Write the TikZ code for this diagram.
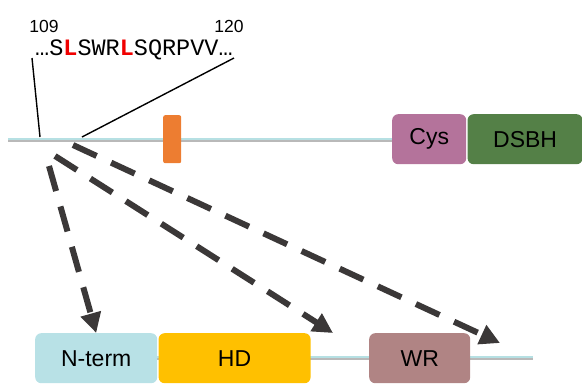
\documentclass[tikz,border=0pt]{standalone}
\usepackage{fontspec}
\setmainfont{Liberation Sans}
\newfontfamily\seqfont{Liberation Mono}
\newfontfamily\numfont{Liberation Sans}
\usepackage{tikz}
\usepackage{xcolor}
\usetikzlibrary{arrows.meta, positioning}
\definecolor{cLine}{RGB}{182,224,227}
\definecolor{cShadow}{RGB}{185,185,185}
\definecolor{cOrange}{RGB}{237,125,49}
\definecolor{cCys}{RGB}{180,115,155}
\definecolor{cDSBH}{RGB}{84,128,71}
\definecolor{cNterm}{RGB}{184,225,230}
\definecolor{cHD}{RGB}{255,192,0}
\definecolor{cWR}{RGB}{176,132,132}
\definecolor{cArrow}{RGB}{59,56,56}
\definecolor{cRed}{RGB}{240,0,0}
\newcommand{\hiL}{{\bfseries\color{cRed}L}}
\tikzset{
	dombox/.style    ={rectangle, rounded corners=6pt, minimum height=50pt, inner sep=0pt, anchor=north west, font=\numfont\fontsize{23}{26}\selectfont},
	backbone/.style  ={line width=2.5pt, cLine},
	backshadow/.style={line width=2.5pt, cShadow},
	pointer/.style   ={line width=1.4pt, black},
	dasharrow/.style ={line width=6pt, cArrow, dash pattern=on 26pt off 16pt, -{Triangle[length=20pt, width=20pt]}},
	resnum/.style    ={anchor=base, inner sep=0pt, font=\numfont\fontsize{17.5}{20}\selectfont},
}
\begin{document}
\begin{tikzpicture}[x=1pt, y=-1pt]
			\useasboundingbox (0,0) rectangle (582,384);
			% top protein backbone
			\coordinate (topL) at (8,139);
			\coordinate (topR) at (400,139);
			\draw[backshadow] ([yshift=-2pt]topL) -- ([yshift=-2pt]topR);
			\draw[backbone] (topL) -- (topR);
			\node[rectangle, rounded corners=2pt, fill=cOrange, minimum width=18pt, minimum height=48pt, anchor=north west, inner sep=0pt] (motif) at (163,115) {};
			\node[dombox, fill=cCys, minimum width=74pt] (cys) at (392,114) {Cys};
			\node[dombox, fill=cDSBH, minimum width=115pt, right=1pt of cys] (dsbh) {DSBH};
			% sequence and residue numbers
			\node[anchor=base west, inner sep=0pt, font=\seqfont\fontsize{23.5}{26}\selectfont] (seq) at (35,55) {…S\hiL SWR\hiL SQRPVV…};
			\node[resnum] (n109) at (44,32) {109};
			\node[resnum] (n120) at (229,32) {120};
			\coordinate (tickL) at (32,58);
			\coordinate (tickR) at (234,58);
			\coordinate (cutL) at (40,137);
			\coordinate (cutR) at (82,137);
			\draw[pointer] (tickL) -- (cutL);
			\draw[pointer] (tickR) -- (cutR);
			% bottom protein backbone
			\coordinate (botL) at (38,357);
			\coordinate (botR) at (533,357);
			\draw[backshadow] ([yshift=-2pt]botL) -- ([yshift=-2pt]botR);
			\draw[backbone] (botL) -- (botR);
			\node[dombox, fill=cNterm, minimum width=122pt] (nterm) at (35,333) {N-term};
			\node[dombox, fill=cHD, minimum width=152pt, right=1pt of nterm] (hd) {HD};
			\node[dombox, fill=cWR, minimum width=101pt] (wr) at (369,333) {WR};
			% insertion sites
			\coordinate (src1) at (49,166);
			\coordinate (src2) at (55,156);
			\coordinate (src3) at (73,145);
			\coordinate (tip2) at (333,333);
			\coordinate (tip3) at (500,343);
			\draw[dasharrow] (src1) -- (nterm.north);
			\draw[dasharrow] (src2) -- (tip2);
			\draw[dasharrow] (src3) -- (tip3);
		\end{tikzpicture}
\end{document}
